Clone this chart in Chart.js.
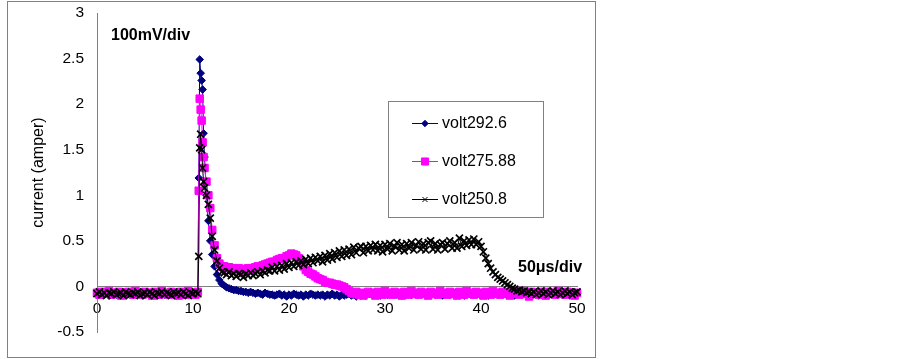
<!DOCTYPE html>
<html>
<head>
<meta charset="utf-8">
<script src="https://cdn.jsdelivr.net/npm/chart.js@4.4.0/dist/chart.umd.min.js"></script>
<style>
html,body{margin:0;padding:0;background:#fff;}
#wrap{position:relative;width:902px;height:359px;}
canvas{display:block;}
</style>
</head>
<body>
<div id="wrap"><canvas id="c" width="902" height="359"></canvas></div>
<script>
// time (x axis, 5 µs per unit)
const time = [
  0,0.25,0.5,0.75,1,1.25,1.5,1.75,2,2.25,2.5,2.75,3,3.25,3.5,3.75,4,4.25,4.5,4.75,
  5,5.25,5.5,5.75,6,6.25,6.5,6.75,7,7.25,7.5,7.75,8,8.25,8.5,8.75,9,9.25,9.5,9.75,
  10,
  10.25,10.5,
  10.6,10.7,10.8,10.9,11,11.1,11.2,
  11.4,11.6,11.8,12,
  12.25,12.5,12.75,13,
  13.25,13.5,13.75,14,14.25,14.5,14.75,15,15.25,15.5,15.75,16,16.25,16.5,16.75,17,17.25,17.5,17.75,18,
  18.25,18.5,18.75,19,19.25,19.5,19.75,20,20.25,20.5,20.75,21,21.25,21.5,21.75,22,22.25,22.5,22.75,23,
  23.25,23.5,23.75,24,24.25,24.5,24.75,25,25.25,25.5,25.75,26,26.25,26.5,26.75,27,27.25,27.5,27.75,28,
  28.25,28.5,28.75,29,29.25,29.5,29.75,30,30.25,30.5,30.75,31,31.25,31.5,31.75,32,32.25,32.5,32.75,33,
  33.25,33.5,33.75,34,34.25,34.5,34.75,35,35.25,35.5,35.75,36,36.25,36.5,36.75,37,37.25,37.5,37.75,38,
  38.25,38.5,38.75,39,39.25,39.5,39.75,40,40.25,40.5,40.75,41,41.25,41.5,41.75,42,42.25,42.5,42.75,43,
  43.25,43.5,43.75,44,44.25,44.5,44.75,45,45.25,45.5,45.75,46,46.25,46.5,46.75,47,47.25,47.5,47.75,48,
  48.25,48.5,48.75,49,49.25,49.5,49.75,50
];
const volt292_6 = [
  -0.08,-0.07,-0.09,-0.08,-0.07,-0.1,-0.08,-0.07,-0.09,-0.08,-0.07,-0.08,-0.1,-0.07,-0.08,-0.09,-0.07,-0.08,-0.08,-0.1,
  -0.07,-0.08,-0.09,-0.07,-0.08,-0.1,-0.08,-0.07,-0.09,-0.08,-0.07,-0.09,-0.08,-0.1,-0.07,-0.08,-0.09,-0.07,-0.08,-0.08,
  -0.07,
  -0.09,-0.07,
  1.19,2.49,2.34,2.26,2.16,1.68,1.42,
  1.0,0.72,0.5,0.35,
  0.22,0.13,0.07,0.03,
  0.01,-0.01,-0.02,-0.03,-0.04,-0.04,-0.05,-0.05,-0.06,-0.06,-0.07,-0.06,-0.07,-0.08,-0.07,-0.08,-0.09,-0.07,-0.08,-0.09,
  -0.09,-0.1,-0.09,-0.08,-0.1,-0.09,-0.11,-0.09,-0.1,-0.08,-0.09,-0.1,-0.09,-0.11,-0.09,-0.1,-0.08,-0.09,-0.1,-0.09,
  -0.1,-0.09,-0.11,-0.09,-0.1,-0.08,-0.1,-0.09,-0.11,-0.09,-0.1,-0.09,-0.08,-0.1,-0.09,-0.11,-0.09,-0.1,-0.09,-0.1,
  -0.08,-0.07,-0.09,-0.08,-0.08,-0.1,-0.07,-0.08,-0.09,-0.08,-0.08,-0.07,-0.09,-0.08,-0.1,-0.08,-0.07,-0.08,-0.09,-0.08,
  -0.08,-0.09,-0.07,-0.08,-0.1,-0.08,-0.08,-0.07,-0.09,-0.08,-0.08,-0.1,-0.07,-0.08,-0.09,-0.08,-0.08,-0.07,-0.09,-0.08,
  -0.1,-0.08,-0.07,-0.08,-0.09,-0.08,-0.08,-0.07,-0.09,-0.08,-0.1,-0.08,-0.07,-0.08,-0.09,-0.08,-0.08,-0.07,-0.09,-0.08,
  -0.08,-0.1,-0.07,-0.08,-0.09,-0.08,-0.08,-0.07,-0.09,-0.08,-0.08,-0.1,-0.07,-0.08,-0.09,-0.08,-0.08,-0.07,-0.09,-0.08,
  -0.08,-0.09,-0.07,-0.08,-0.1,-0.08,-0.07,-0.08
];
const volt275_88 = [
  -0.07,-0.09,-0.06,-0.08,-0.07,-0.05,-0.09,-0.07,-0.08,-0.06,-0.1,-0.07,-0.08,-0.06,-0.07,-0.09,-0.05,-0.08,-0.07,-0.09,
  -0.06,-0.08,-0.07,-0.1,-0.06,-0.07,-0.09,-0.05,-0.08,-0.07,-0.09,-0.06,-0.07,-0.08,-0.1,-0.06,-0.07,-0.09,-0.05,-0.08,
  -0.07,
  -0.09,-0.06,
  1.05,2.06,1.94,1.82,1.58,1.42,1.3,
  1.15,1.0,0.86,0.62,
  0.45,0.31,0.25,0.22,
  0.22,0.2,0.21,0.19,0.2,0.18,0.2,0.19,0.17,0.19,0.2,0.18,0.2,0.21,0.22,0.21,0.23,0.24,0.25,0.26,
  0.27,0.27,0.29,0.3,0.31,0.31,0.33,0.34,0.36,0.35,0.34,0.31,0.27,0.22,0.18,0.16,0.14,0.13,0.11,0.09,
  0.08,0.07,0.05,0.04,0.04,0.03,0.02,0.02,0.01,0.0,-0.01,-0.03,-0.05,-0.07,-0.08,-0.06,-0.09,-0.07,-0.1,-0.08,
  -0.06,-0.08,-0.07,-0.1,-0.06,-0.07,-0.09,-0.05,-0.08,-0.07,-0.09,-0.06,-0.07,-0.08,-0.1,-0.06,-0.07,-0.09,-0.05,-0.08,
  -0.07,-0.09,-0.06,-0.08,-0.07,-0.1,-0.06,-0.08,-0.07,-0.09,-0.05,-0.08,-0.07,-0.09,-0.06,-0.08,-0.07,-0.1,-0.06,-0.07,
  -0.09,-0.05,-0.08,-0.07,-0.09,-0.06,-0.07,-0.08,-0.1,-0.06,-0.07,-0.09,-0.05,-0.08,-0.07,-0.09,-0.06,-0.08,-0.07,-0.1,
  -0.06,-0.08,-0.07,-0.09,-0.05,-0.08,-0.07,-0.11,-0.06,-0.08,-0.07,-0.09,-0.06,-0.07,-0.1,-0.06,-0.08,-0.07,-0.09,-0.05,
  -0.08,-0.07,-0.09,-0.06,-0.08,-0.07,-0.1,-0.07
];
const volt250_8 = [
  -0.08,-0.06,-0.09,-0.07,-0.1,-0.07,-0.08,-0.06,-0.09,-0.08,-0.07,-0.1,-0.06,-0.08,-0.09,-0.07,-0.08,-0.06,-0.1,-0.08,
  -0.07,-0.09,-0.06,-0.08,-0.1,-0.07,-0.08,-0.06,-0.09,-0.07,-0.08,-0.1,-0.06,-0.08,-0.07,-0.09,-0.06,-0.08,-0.1,-0.07,
  -0.08,
  -0.06,-0.08,
  0.33,1.52,1.67,1.5,1.3,1.15,1.08,
  1.0,0.9,0.75,0.55,
  0.4,0.28,0.2,0.16,
  0.15,0.13,0.16,0.12,0.14,0.11,0.14,0.13,0.1,0.14,0.12,0.15,0.12,0.14,0.16,0.13,0.17,0.15,0.18,0.17,
  0.21,0.17,0.22,0.18,0.23,0.19,0.25,0.21,0.26,0.22,0.27,0.23,0.28,0.24,0.3,0.25,0.31,0.26,0.32,0.28,
  0.33,0.27,0.34,0.29,0.36,0.3,0.37,0.32,0.39,0.33,0.4,0.34,0.41,0.35,0.43,0.37,0.42,0.44,0.37,0.44,
  0.39,0.45,0.4,0.46,0.39,0.45,0.38,0.46,0.41,0.47,0.39,0.44,0.48,0.4,0.46,0.39,0.47,0.42,0.48,0.4,
  0.45,0.49,0.41,0.47,0.4,0.48,0.5,0.41,0.47,0.4,0.46,0.48,0.41,0.47,0.5,0.42,0.48,0.42,0.53,0.44,
  0.5,0.45,0.51,0.46,0.52,0.46,0.49,0.44,0.38,0.31,0.25,0.2,0.16,0.13,0.1,0.08,0.06,0.04,0.02,0.0,
  -0.02,-0.03,-0.05,-0.04,-0.06,-0.05,-0.07,-0.06,-0.08,-0.06,-0.09,-0.07,-0.05,-0.08,-0.06,-0.09,-0.07,-0.05,-0.08,-0.06,
  -0.09,-0.07,-0.05,-0.08,-0.06,-0.09,-0.07,-0.06
];
const seriesNames = ['volt292.6','volt275.88','volt250.8'];
const xTickValues = [0,10,20,30,40,50];
const yTickValues = [-0.5,0,0.5,1,1.5,2,2.5,3];
const yAxisTitle = 'current (amper)';
const noteVoltage = '100mV/div';
const noteTime = '50\u03bcs/div';

const FONT = '"Liberation Sans", Arial, Helvetica, sans-serif';
Chart.defaults.font.family = FONT;
Chart.defaults.color = '#000';

function pts(vals){ return time.map((t,i)=>({x:t,y:vals[i]})); }

const styles = [
  {color:'#000080', fill:'#000080', pointStyle:'rectRot', radius:3.8, legendRadius:3.2, bw:1},
  {color:'#FF00FF', fill:'#FF00FF', pointStyle:'rect', radius:5.3, legendRadius:5, bw:1},
  {color:'#000000', fill:'#000000', pointStyle:'crossRot', radius:5, legendRadius:3.6, bw:1.7}
];
const seriesVals = [volt292_6, volt275_88, volt250_8];

const datasets = seriesVals.map((v,i)=>({
  label: seriesNames[i],
  data: pts(v),
  borderColor: styles[i].color,
  backgroundColor: styles[i].fill,
  borderWidth: 1,
  pointStyle: styles[i].pointStyle,
  pointRadius: styles[i].radius,
  pointBorderWidth: styles[i].bw,
  pointBorderColor: styles[i].color,
  pointBackgroundColor: styles[i].fill,
  tension: 0,
  clip: false,
  order: 3 - i
}));

const decorPlugin = {
  id: 'decor',
  beforeDraw(chart){
    const ctx = chart.ctx;
    ctx.save();
    ctx.fillStyle = '#fff';
    ctx.fillRect(0,0,chart.width,chart.height);
    ctx.restore();
  },
  afterDraw(chart){
    const ctx = chart.ctx;
    ctx.save();
    // outer frame
    ctx.strokeStyle = '#808080';
    ctx.lineWidth = 1;
    ctx.strokeRect(7.5, 1.5, 588, 356);
    // notes
    ctx.fillStyle = '#000';
    ctx.font = 'bold 16px ' + FONT;
    ctx.textBaseline = 'middle';
    ctx.textAlign = 'left';
    ctx.fillText(noteVoltage, 111, 36);
    ctx.fillText(noteTime, 518, 268);
    // legend box
    ctx.fillStyle = '#fff';
    ctx.fillRect(388.5, 101.5, 155, 116);
    ctx.strokeStyle = '#808080';
    ctx.strokeRect(388.5, 101.5, 155, 116);
    chart.data.datasets.forEach((ds,i)=>{
      const y = 123 + i*38;
      const st = styles[i];
      ctx.strokeStyle = st.color;
      ctx.lineWidth = 1;
      ctx.beginPath();
      ctx.moveTo(412, y+0.5);
      ctx.lineTo(438, y+0.5);
      ctx.stroke();
      ctx.fillStyle = st.fill;
      ctx.strokeStyle = st.color;
      Chart.helpers.drawPoint(ctx, {pointStyle: st.pointStyle, rotation: 0, radius: st.legendRadius, borderWidth: 1}, 425, y+0.5);
      ctx.fillStyle = '#000';
      ctx.font = '16px ' + FONT;
      ctx.textBaseline = 'middle';
      ctx.textAlign = 'left';
      ctx.fillText(ds.label, 442, y+1);
    });
    ctx.restore();
  }
};

new Chart(document.getElementById('c'), {
  type: 'line',
  data: { datasets },
  options: {
    responsive: false,
    animation: false,
    devicePixelRatio: 1,
    layout: { padding: { left: 26, top: 13, right: 325, bottom: 27 } },
    plugins: { legend: { display: false }, tooltip: { enabled: false } },
    scales: {
      x: {
        type: 'linear',
        min: 0, max: 50,
        position: { y: 0 },
        grid: { display: false, drawTicks: false },
        border: { display: true, color: '#808080', width: 1 },
        ticks: { font: { size: 15.5 }, color: '#000', padding: 13, maxRotation: 0 },
        afterBuildTicks: s => { s.ticks = xTickValues.map(v=>({value:v})); },
        afterFit: s => { s.height = 0; s.paddingLeft = 0; s.paddingRight = 0; s.paddingTop = 0; s.paddingBottom = 0; }
      },
      y: {
        type: 'linear',
        min: -0.5, max: 3,
        position: 'left',
        grid: { display: false, drawTicks: false },
        border: { display: true, color: '#808080', width: 1 },
        ticks: { font: { size: 15.5 }, color: '#000', padding: 13,
          callback: v => String(Math.round(v*10)/10) },
        afterBuildTicks: s => { s.ticks = yTickValues.map(v=>({value:v})); },
        title: { display: true, text: yAxisTitle, font: { size: 16 }, color: '#000', padding: { top: 3, bottom: 0 } },
        afterFit: s => { s.width = 71; s.paddingTop = 0; s.paddingBottom = 0; s.paddingLeft = 0; s.paddingRight = 0; }
      }
    }
  },
  plugins: [decorPlugin]
});
</script>
</body>
</html>
